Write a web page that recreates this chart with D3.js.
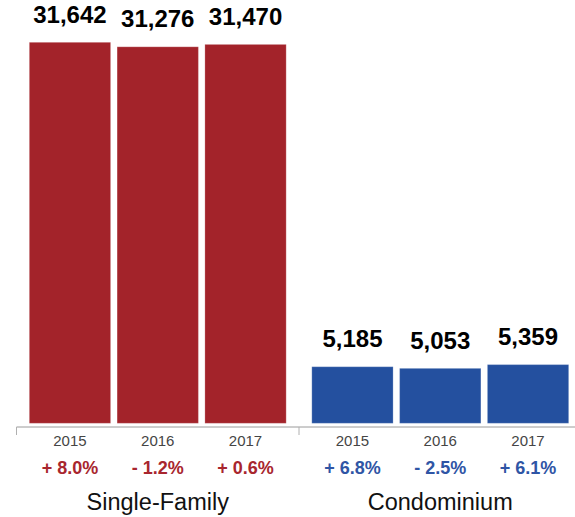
<!DOCTYPE html>
<html>
<head>
<meta charset="utf-8">
<script src="https://cdn.jsdelivr.net/npm/d3@7"></script>
<style>
  html, body { margin: 0; padding: 0; background: #fff; }
  svg { display: block; font-family: "Liberation Sans", Arial, Helvetica, sans-serif; }
</style>
</head>
<body>
<svg id="chart" width="575" height="517"></svg>
<script>
// Closed sales by property type, 2015–2017
const groups = ["Single-Family", "Condominium"];
const years = ["2015", "2016", "2017"];
const singleFamily = [31642, 31276, 31470];
const condominium = [5185, 5053, 5359];
const singleFamilyChange = ["+ 8.0%", "- 1.2%", "+ 0.6%"];
const condominiumChange = ["+ 6.8%", "- 2.5%", "+ 6.1%"];

const seriesValues = [singleFamily, condominium];
const seriesChange = [singleFamilyChange, condominiumChange];
const barColors = ["#a3232a", "#24509f"];
const textColors = ["#a8262e", "#2f55a5"];

const svg = d3.select("#chart");

const axisY = 427;
const barBottom = 423.3;

// Group band across the axis (second group runs slightly past the right edge)
const x0 = d3.scaleBand().domain(groups).range([16.5, 581.5]).paddingInner(0).paddingOuter(0);
const x1 = d3.scaleBand().domain(years).range([0, x0.bandwidth()])
  .paddingInner(0.074).paddingOuter(0.146);

const y = d3.scaleLinear().domain([0, 31642]).range([430.3, 42.3]);

groups.forEach((g, gi) => {
  const gx = x0(g);
  const grp = svg.append("g").attr("transform", `translate(${gx},0)`);
  const vals = seriesValues[gi];

  grp.selectAll("rect.bar")
    .data(vals)
    .join("rect")
    .attr("class", "bar")
    .attr("x", (d, i) => x1(years[i]))
    .attr("width", x1.bandwidth())
    .attr("y", d => y(d))
    .attr("height", d => barBottom - y(d))
    .attr("fill", barColors[gi])
    .attr("stroke", "rgba(255,255,255,0.22)")
    .attr("stroke-width", 1);

  // value labels above bars
  grp.selectAll("text.val")
    .data(vals)
    .join("text")
    .attr("class", "val")
    .attr("x", (d, i) => x1(years[i]) + x1.bandwidth() / 2)
    .attr("y", d => y(d) - 19.5)
    .attr("text-anchor", "middle")
    .attr("font-size", 24)
    .attr("font-weight", "bold")
    .attr("fill", "#000")
    .text(d => d3.format(",")(d));

  // year labels
  grp.selectAll("text.year")
    .data(years)
    .join("text")
    .attr("class", "year")
    .attr("x", d => x1(d) + x1.bandwidth() / 2)
    .attr("y", 445.5)
    .attr("text-anchor", "middle")
    .attr("font-size", 15)
    .attr("fill", "#454545")
    .text(d => d);

  // year-over-year change
  grp.selectAll("text.chg")
    .data(seriesChange[gi])
    .join("text")
    .attr("class", "chg")
    .attr("x", (d, i) => x1(years[i]) + x1.bandwidth() / 2)
    .attr("y", 474)
    .attr("text-anchor", "middle")
    .attr("font-size", 18)
    .attr("font-weight", "bold")
    .attr("fill", textColors[gi])
    .text(d => d);

  // group name
  grp.append("text")
    .attr("x", x0.bandwidth() / 2)
    .attr("y", 510)
    .attr("text-anchor", "middle")
    .attr("font-size", 23.5)
    .attr("fill", "#111")
    .text(g);
});

// axis line with ticks at group boundaries
const axis = svg.append("g");
axis.append("line")
  .attr("x1", x0.range()[0]).attr("x2", x0.range()[1])
  .attr("y1", axisY).attr("y2", axisY)
  .attr("stroke", "#9a9a9a").attr("stroke-width", 1);
axis.selectAll("line.tick")
  .data(groups)
  .join("line")
  .attr("class", "tick")
  .attr("x1", d => x0(d)).attr("x2", d => x0(d))
  .attr("y1", axisY).attr("y2", axisY + 8)
  .attr("stroke", "#b0b0b0").attr("stroke-width", 1);
</script>
</body>
</html>
